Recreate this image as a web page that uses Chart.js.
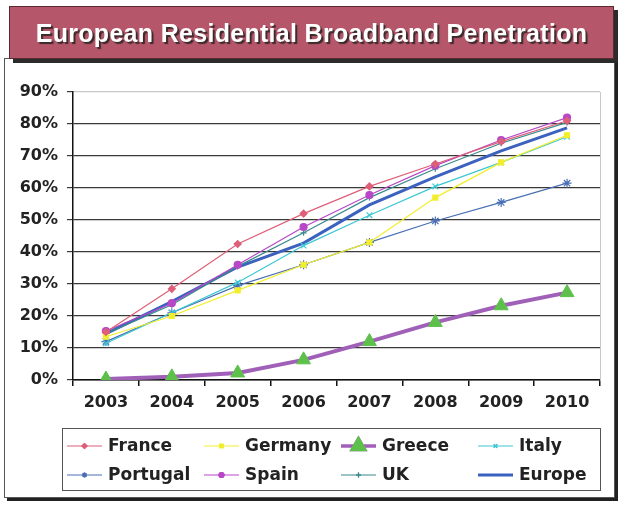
<!DOCTYPE html>
<html>
<head>
<meta charset="utf-8">
<script src="https://cdn.jsdelivr.net/npm/chart.js@4.4.1/dist/chart.umd.min.js"></script>
<style>
  html, body { margin: 0; padding: 0; background: #fff; }
  #wrap { position: relative; width: 630px; height: 507px; overflow: hidden; }
  #frame {
    position: absolute; left: 4px; top: 58px; width: 609px; height: 438px;
    border: 1px solid #555; box-shadow: 3px 3px 0 #222; background: #fff;
  }
  #banner {
    position: absolute; left: 9px; top: 6px; width: 603px; height: 51px;
    background: #b5566a; border: 1px solid #5a2a33; box-shadow: 4px 4px 0 #2b2b2b;
    color: #fff; font: bold 25px "Liberation Sans", Arial, sans-serif; letter-spacing: 0.3px;
    text-align: center; line-height: 53px; text-shadow: 2px 2px 1px #3a2a2a;
  }
  #chart { position: absolute; left: 0; top: 0; }
</style>
</head>
<body>
<div id="wrap">
  <div id="frame"></div>
  <canvas id="chart" width="630" height="507"></canvas>
  <div id="banner">European Residential Broadband Penetration</div>
</div>
<script>
"use strict";

// ── Data (percent) ────────────────────────────────────────
const years    = ["2003", "2004", "2005", "2006", "2007", "2008", "2009", "2010"];
const france   = [15, 28.5, 42.5, 52, 60.5, 67.5, 74.5, 81];
const germany  = [13.5, 20, 28, 36, 43, 57, 68, 76.5];
const greece   = [0.3, 1, 2.2, 6.3, 12, 18, 23.2, 27.3];
const italy    = [11.5, 21, 30.5, 42, 51.5, 60.5, 68, 76];
const portugal = [12, 21, 29.5, 36, 43, 49.7, 55.5, 61.5];
const spain    = [15.3, 24, 36, 47.8, 57.8, 67, 75, 82];
const uk       = [14.5, 23.5, 35.5, 46, 57, 66, 74, 80.5];
const europe   = [14.5, 24.5, 35.3, 42.8, 54.7, 63.5, 71.6, 78.8];
const yTicks   = [0, 10, 20, 30, 40, 50, 60, 70, 80, 90];

const FONT = "'DejaVu Sans', sans-serif";

function series(label, data, color, style, extra) {
  return Object.assign({
    label, data,
    borderColor: color,
    backgroundColor: color,
    pointBorderColor: color,
    pointBackgroundColor: color,
    borderWidth: 1.2,
    pointStyle: style,
    pointRadius: 3.5,
    pointBorderWidth: 1.2,
    tension: 0,
  }, extra || {});
}

const datasets = [
  series("France",   france,   "#de5f78", "rectRot"),
  series("Germany",  germany,  "#f2ee2c", "rect"),
  series("Greece",   greece,   "#a060b8", "triangle", {
    borderWidth: 4, pointRadius: 8, pointBackgroundColor: "#5cc04a", pointBorderColor: "#5cc04a", pointBorderWidth: 1,
  }),
  series("Italy",    italy,    "#3cc8d2", "crossRot", { pointRadius: 4 }),
  series("Portugal", portugal, "#4a6fb5", "star", { pointRadius: 4.5 }),
  series("Spain",    spain,    "#b848c8", "circle"),
  series("UK",       uk,       "#3a8a8c", "cross", { pointRadius: 3 }),
  series("Europe",   europe,   "#3b62bf", false, { borderWidth: 3, pointRadius: 0 }),
];

// ── Legend (4 columns × 2 rows, boxed) ────────────────────
const legendBox = {
  id: "legendBox",
  afterDraw(chart) {
    const c = chart.ctx;
    c.save();
    c.strokeStyle = "#555";
    c.lineWidth = 1;
    c.strokeRect(62.5, 428.5, 538, 62);
    const textX = [108, 245, 382, 519];
    const rowY  = [446, 475];
    c.font = "bold 17px " + FONT;
    c.textBaseline = "middle";
    chart.data.datasets.forEach((ds, i) => {
      const col = i % 4, row = Math.floor(i / 4);
      const x1 = textX[col] - 41, x2 = textX[col] - 6, y = rowY[row];
      c.strokeStyle = ds.borderColor;
      c.lineWidth = Math.min(ds.borderWidth, 3.5);
      c.beginPath(); c.moveTo(x1, y); c.lineTo(x2, y); c.stroke();
      if (ds.pointStyle) {
        Chart.helpers.drawPoint(c, {
          pointStyle: ds.pointStyle,
          radius: ds.label === "Greece" ? 7 : 2.5,
          borderWidth: 1,
          rotation: 0,
        }, (x1 + x2) / 2, y);
        c.fillStyle = ds.pointBackgroundColor;
        c.strokeStyle = ds.pointBorderColor;
        c.beginPath();
        Chart.helpers.drawPoint(c, {
          pointStyle: ds.pointStyle,
          radius: ds.label === "Greece" ? 7 : 2.5,
          borderWidth: 1,
          rotation: 0,
        }, (x1 + x2) / 2, y);
      }
      c.fillStyle = "#222";
      c.fillText(ds.label, textX[col], y + 1);
    });
    c.restore();
  },
};

// ── Chart ─────────────────────────────────────────────────
new Chart(document.getElementById("chart"), {
  type: "line",
  data: { labels: years, datasets },
  plugins: [legendBox],
  options: {
    responsive: false,
    animation: false,
    devicePixelRatio: 1,
    layout: { padding: { left: 0, top: 92, right: 30, bottom: 87 } },
    plugins: { legend: { display: false }, tooltip: { enabled: false } },
    scales: {
      x: {
        offset: true,
        afterFit: s => { s.height = 40; },
        border: { color: "#111", width: 1.5 },
        grid: { offset: true, drawOnChartArea: false, tickLength: 6, color: "#111", lineWidth: 1.5 },
        ticks: { color: "#222", padding: 7, font: { family: FONT, size: 16, weight: "bold" } },
      },
      y: {
        min: 0, max: 90,
        afterFit: s => { s.width = 73; },
        afterBuildTicks: s => { s.ticks = yTicks.map(v => ({ value: v })); },
        border: { color: "#111", width: 1.5 },
        grid: {
          tickLength: 6,
          color: ctx => ctx.tick && ctx.tick.value === 90 ? "#c8c8c8" : "#3a3a3a",
          tickColor: "#3a3a3a",
          lineWidth: 1.2,
        },
        ticks: {
          color: "#222", padding: 9,
          font: { family: FONT, size: 16, weight: "bold" },
          callback: v => v + "%",
        },
      },
      yr: {
        position: "right", min: 0, max: 90,
        afterFit: s => { s.width = 0; },
        border: { color: "#c8c8c8", width: 1 },
        grid: { display: false },
        ticks: { display: false },
      },
    },
  },
});
</script>
</body>
</html>
